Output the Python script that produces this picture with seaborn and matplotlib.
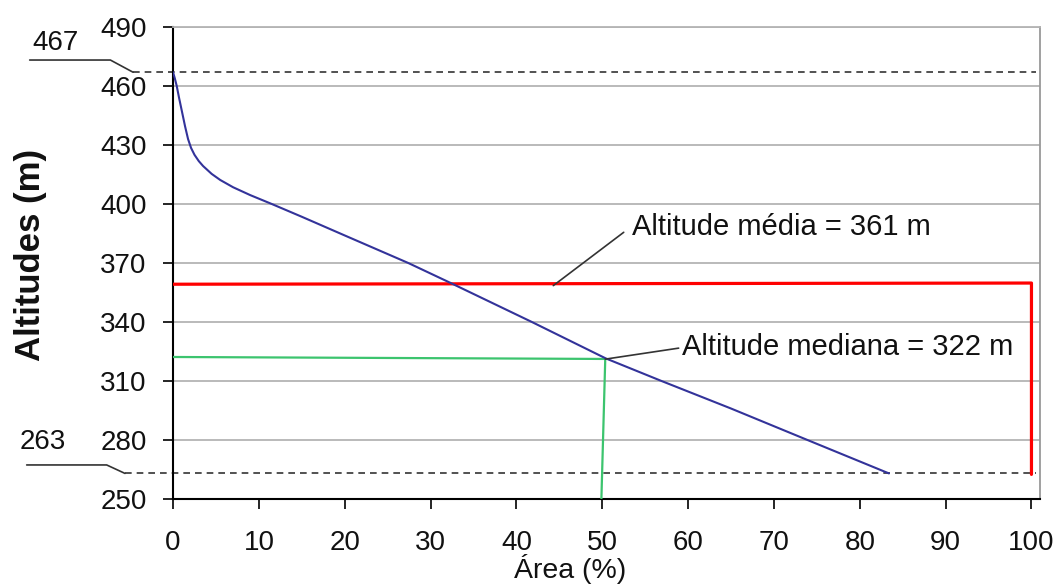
import pandas as pd
import matplotlib.pyplot as plt
import seaborn as sns

# Hypsometric curve (area % above altitude)
area_pct = [0, 0.2, 0.43, 0.7, 1.0, 1.4, 1.75, 2.1, 2.5, 3.0, 3.5, 4.5, 5.5, 7, 9,
            11.5, 15, 20, 27.4, 32.5, 41.8, 50.4, 56.9, 65, 73.9, 83.4]
altitude = [467, 464, 460, 454, 447.8, 439.5, 433, 428.5, 425, 421.8, 419.3, 415.3,
            412.2, 408.5, 404.5, 400, 393.5, 384, 370, 359.5, 340, 321.5, 310, 296,
            280, 263]

alt_max = 467
alt_min = 263
media_x = [0, 100, 100]
media_y = [359.2, 359.8, 262.5]
mediana_x = [0, 50.35, 49.9]
mediana_y = [322.2, 321.2, 250]

y_ticks = [250, 280, 310, 340, 370, 400, 430, 460, 490]
x_ticks = [0, 10, 20, 30, 40, 50, 60, 70, 80, 90, 100]

sns.set_theme(style='white')
plt.rcParams['font.family'] = ['Liberation Sans', 'DejaVu Sans']

df = pd.DataFrame({'area': area_pct, 'alt': altitude})

fig = plt.figure(figsize=(10.59, 5.88), dpi=100)
ax = fig.add_axes([0.1634, 0.1514, 0.8187, 0.8027])

# grid lines
for yv in y_ticks[1:]:
    ax.axhline(yv, color='#b4b4b4', lw=1.3, zorder=0)

# dashed max/min lines with leaders
ax.plot([-4.66, 100.5], [alt_max, alt_max], ls=(0, (4, 3)), color='#333333', lw=1.2, clip_on=False)
ax.plot([-5.6, 100.5], [alt_min, alt_min], ls=(0, (4, 3)), color='#333333', lw=1.2, clip_on=False)
ax.plot([-16.7, -7.3, -4.66], [473.2, 473.2, alt_max], color='#333333', lw=1.2, clip_on=False)
ax.plot([-17.05, -7.73, -5.6], [267.3, 267.3, alt_min], color='#333333', lw=1.2, clip_on=False)
ax.text(-16.4, 482, str(alt_max), fontsize=20, va='center', ha='left', color='#111111')
ax.text(-17.9, 279.2, str(alt_min), fontsize=20, va='center', ha='left', color='#111111')

# mean and median lines
ax.plot(media_x, media_y, color='#ff0000', lw=2.3, zorder=3)
ax.plot(mediana_x, mediana_y, color='#3cc46e', lw=1.6, zorder=3)

sns.lineplot(data=df, x='area', y='alt', color='#33339a', lw=1.5, ax=ax,
             sort=False, zorder=4)

# annotations
ax.plot([44.3, 52.5], [358.5, 385.6], color='#333333', lw=1.2, zorder=5)
ax.text(53.5, 384.3, 'Altitude média = 361 m', fontsize=21, va='baseline', color='#111111')
ax.plot([50.35, 58.9], [321.1, 326.7], color='#333333', lw=1.2, zorder=5)
ax.text(59.3, 323.2, 'Altitude mediana = 322 m', fontsize=21, va='baseline', color='#111111')

ax.set_xlim(0, 101)
ax.set_ylim(250, 490)
ax.set_xticks(x_ticks)
ax.set_yticks(y_ticks)
ax.tick_params(axis='both', direction='out', length=7, width=1.2, color='black',
               labelsize=20, labelcolor='#111111', left=True, bottom=True)
ax.tick_params(axis='x', pad=15)
ax.tick_params(axis='y', pad=12)

for side in ['left', 'bottom']:
    ax.spines[side].set_color('black')
    ax.spines[side].set_linewidth(1.5)
ax.spines['right'].set_color('#999999')
ax.spines['right'].set_linewidth(1.3)
ax.spines['top'].set_color('#b4b4b4')
ax.spines['top'].set_linewidth(1.3)

ax.set_xlabel('Área (%)', fontsize=20.5, color='#111111')
ax.xaxis.set_label_coords(0.458, -0.117)
ax.set_ylabel('Altitudes (m)', fontsize=25, fontweight='bold', color='#111111')
ax.yaxis.set_label_coords(-0.145, 0.517)

fig.savefig('out.png', dpi=100)
plt.close()
